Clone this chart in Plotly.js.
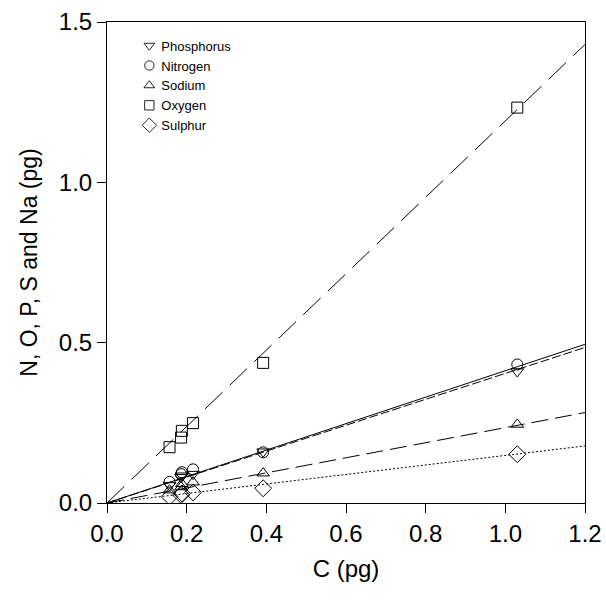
<!DOCTYPE html>
<html>
<head>
<meta charset="utf-8">
<script src="https://cdn.plot.ly/plotly-3.0.1.min.js"></script>
<style>html,body{margin:0;padding:0;background:#fff;}#chart{width:606px;height:603px;}</style>
</head>
<body>
<div id="chart"></div>
<script>
// Carbon content (pg) per sample
const carbon = [0.157, 0.186, 0.188, 0.216, 0.392, 1.03];
const phosphorus = [0.055, 0.080, 0.085, 0.090, 0.160, 0.410];
const nitrogen   = [0.066, 0.090, 0.096, 0.105, 0.158, 0.432];
const sodium     = [0.040, 0.050, 0.060, 0.065, 0.093, 0.245];
const oxygen     = [0.174, 0.204, 0.225, 0.249, 0.437, 1.233];
const sulphur    = [0.020, 0.025, 0.030, 0.033, 0.046, 0.152];

// Regression lines: values at C = 0 and C = 1.2
const fitX = [0, 1.2];
const fitPhosphorus = [0, 0.485];
const fitNitrogen   = [0, 0.495];
const fitSodium     = [0, 0.282];
const fitOxygen     = [0, 1.43];
const fitSulphur    = [0, 0.178];

const seriesNames = ['Phosphorus', 'Nitrogen', 'Sodium', 'Oxygen', 'Sulphur'];
const seriesVals = [phosphorus, nitrogen, sodium, oxygen, sulphur];
const seriesFits = [fitPhosphorus, fitNitrogen, fitSodium, fitOxygen, fitSulphur];
const symbols = ['triangle-down-open', 'circle-open', 'triangle-up-open', 'square-open', 'diamond-open'];
const sizes = [11, 11, 11, 11, 13];
const dashes = ['9px,3px', 'solid', '17px,7px', '24px,10px', '2px,2px'];

const traces = [];
seriesNames.forEach((n, i) => {
  traces.push({
    x: fitX, y: seriesFits[i], mode: 'lines', showlegend: false, hoverinfo: 'skip',
    line: {color: '#000', width: 1, dash: dashes[i]}
  });
});
seriesNames.forEach((n, i) => {
  traces.push({
    x: carbon, y: seriesVals[i], mode: 'markers', name: n,
    marker: {symbol: symbols[i], size: sizes[i], color: '#000', line: {color: '#000', width: 1}}
  });
});

const font = 'Liberation Sans, Arial, sans-serif';
const layout = {
  width: 606, height: 603,
  margin: {l: 107, r: 21, t: 22, b: 100},
  paper_bgcolor: '#fff', plot_bgcolor: '#fff',
  font: {family: font, color: '#000'},
  showlegend: true,
  legend: {
    x: 0.03, y: 0.982, xanchor: 'left', yanchor: 'top',
    bgcolor: 'rgba(0,0,0,0)', borderwidth: 0,
    font: {family: font, size: 13, color: '#000'},
    itemwidth: 30, tracegroupgap: 0
  },
  xaxis: {
    range: [0, 1.2], dtick: 0.2, tickformat: '.1f',
    showgrid: false, zeroline: false,
    showline: true, linecolor: '#000', linewidth: 1, mirror: true,
    ticks: 'outside', ticklen: 9, tickcolor: '#000',
    tickfont: {family: font, size: 24},
    title: {text: 'C (pg)', font: {family: font, size: 24}, standoff: 14}
  },
  yaxis: {
    range: [0, 1.5], dtick: 0.5, tickformat: '.1f',
    showgrid: false, zeroline: false,
    showline: true, linecolor: '#000', linewidth: 1, mirror: true,
    ticks: 'outside', ticklen: 9, tickcolor: '#000',
    tickfont: {family: font, size: 24},
    title: {text: 'N, O, P, S and Na (pg)', font: {family: font, size: 23}, standoff: 14}
  }
};

Plotly.newPlot('chart', traces, layout, {displayModeBar: false, staticPlot: true}).then(gd => {
  // bring legend symbols closer to their labels and make them slightly smaller
  gd.querySelectorAll('.legend .legendpoints').forEach(g => {
    g.setAttribute('transform', 'translate(11,0) scale(0.85)');
  });
});
</script>
</body>
</html>
